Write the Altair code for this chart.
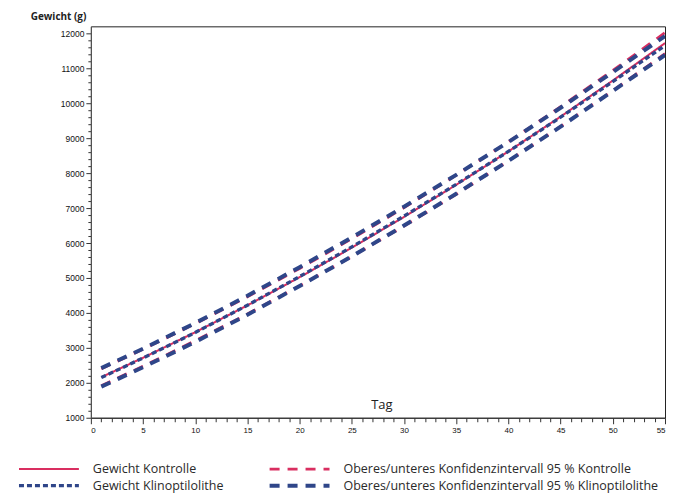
import altair as alt
import pandas as pd

days = [1, 5, 10, 15, 20, 25, 30, 35, 40, 45, 50, 55]
gewicht_kontrolle = [2160, 2717, 3447, 4216, 5022, 5865, 6747, 7666, 8622, 9617, 10649, 11720]
gewicht_klino = [2150, 2710, 3440, 4220, 5040, 5890, 6770, 7680, 8620, 9600, 10620, 11650]
ki_kontrolle_oben = [2400, 2960, 3690, 4460, 5270, 6120, 7010, 7940, 8900, 9900, 10940, 12020]
ki_kontrolle_unten = [1920, 2475, 3205, 3970, 4775, 5610, 6485, 7390, 8345, 9335, 10360, 11420]
ki_klino_oben = [2420, 2975, 3710, 4490, 5310, 6160, 7040, 7950, 8890, 9870, 10890, 11920]
ki_klino_unten = [1890, 2445, 3170, 3950, 4770, 5620, 6500, 7410, 8350, 9330, 10350, 11380]

S_K = "Gewicht Kontrolle"
S_KL = "Gewicht Klinoptilolithe"
S_CIK = "Oberes/unteres Konfidenzintervall 95 % Kontrolle"
S_CIKL = "Oberes/unteres Konfidenzintervall 95 % Klinoptilolithe"

rows = []
for name, part, vals in [
    (S_CIK, "oben", ki_kontrolle_oben),
    (S_CIK, "unten", ki_kontrolle_unten),
    (S_CIKL, "oben", ki_klino_oben),
    (S_CIKL, "unten", ki_klino_unten),
    (S_K, "mittel", gewicht_kontrolle),
    (S_KL, "mittel", gewicht_klino),
]:
    for d, v in zip(days, vals):
        rows.append({"Tag": d, "Gewicht": v, "Reihe": name, "Teil": part, "key": name + part})
df = pd.DataFrame(rows)

RED = "#d92e60"
BLUE = "#2f4689"
domain = [S_K, S_CIK, S_KL, S_CIKL]

y_vals = list(range(1000, 12001, 200))
x_vals = list(range(0, 56))

chart = alt.Chart(df).mark_line(clip=True).encode(
    x=alt.X("Tag:Q",
            scale=alt.Scale(domain=[0, 55], nice=False),
            axis=alt.Axis(values=x_vals, title="Tag", titleX=291, titleY=-9,
                          titleBaseline="alphabetic",
                          titleFontSize=13, titleFontWeight="normal", titleFont="Open Sans",
                          titleColor="#222",
                          labelExpr="datum.value % 5 === 0 ? datum.label : ''",
                          labelFontSize=8, labelFont="Arial", labelColor="#111",
                          tickSize={"condition": {"test": "datum.value % 5 === 0", "value": 6}, "value": 4},
                          grid=False, domainColor="#333", tickColor="#333", labelPadding=3)),
    y=alt.Y("Gewicht:Q",
            scale=alt.Scale(domain=[1000, 12200], nice=False, zero=False),
            axis=alt.Axis(values=y_vals, title="Gewicht (g)", titleAngle=0, titleAlign="right",
                          titleX=-5, titleY=-7, titleBaseline="alphabetic",
                          titleFontSize=10, titleFont="Open Sans", titleFontWeight="bold",
                          titleColor="#222", format="d",
                          labelExpr="datum.value % 1000 === 0 ? datum.label : ''",
                          labelFontSize=8.5, labelFont="Arial", labelColor="#111",
                          tickSize={"condition": {"test": "datum.value % 1000 === 0", "value": 5}, "value": 3},
                          grid=False, domainColor="#555", tickColor="#333", labelPadding=2)),
    color=alt.Color("Reihe:N", scale=alt.Scale(domain=domain, range=[RED, RED, BLUE, BLUE]),
                    legend=alt.Legend(title=None, orient="none", legendX=-74, legendY=436,
                                      columns=2, direction="horizontal", gridAlign="each",
                                      symbolType="M-1,0H9", symbolSize=144,
                                      labelOffset=60,
                                      labelFontSize=12.5, labelFont="Open Sans", labelColor="#2a2a2a",
                                      columnPadding=38, rowPadding=2, labelLimit=400,
                                      symbolOffset=0)),
    strokeDash=alt.StrokeDash("Reihe:N", scale=alt.Scale(domain=domain,
                              range=[[1, 0], [10, 8], [5, 3], [10, 8]])),
    strokeWidth=alt.StrokeWidth("Reihe:N", scale=alt.Scale(domain=domain, range=[2, 4, 2, 4])),
    detail="key:N",
).properties(
    width=575, height=392,
    padding={"left": 9, "top": 3, "right": 0, "bottom": 0},
).configure_view(stroke="#222", strokeWidth=1)

chart.save("out.html", embed_options={"renderer": "svg", "actions": False})
